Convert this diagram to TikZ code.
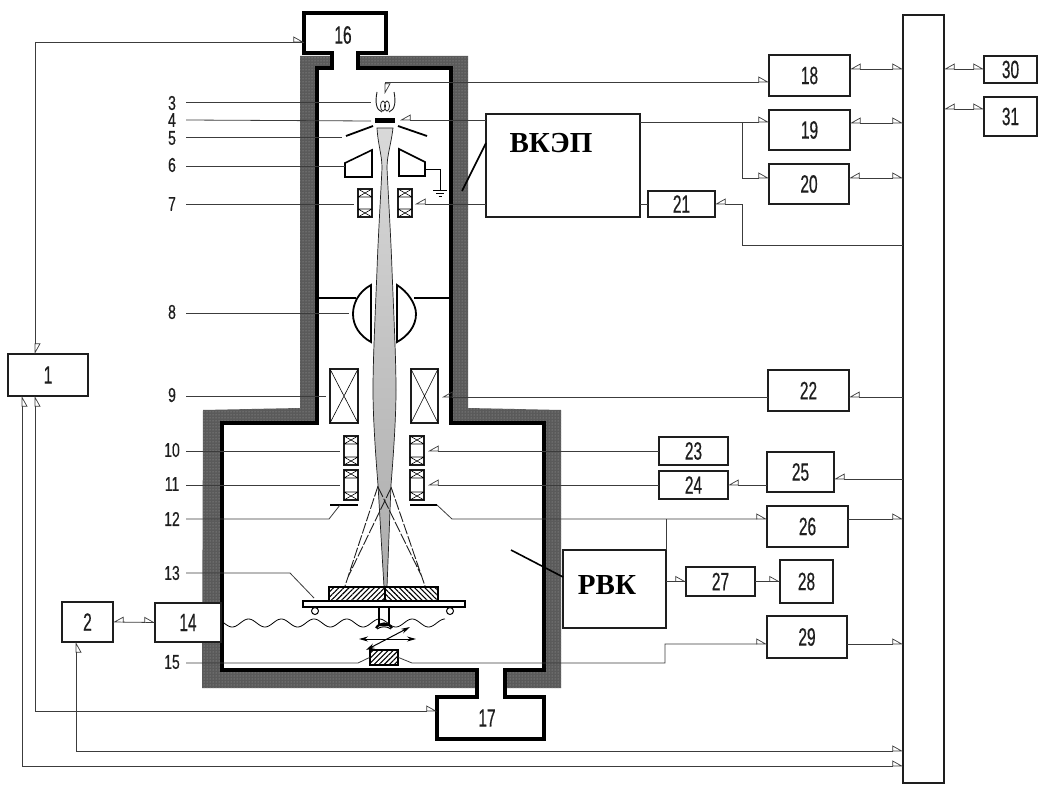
\documentclass[tikz,border=0pt]{standalone}
\usepackage{fontspec}
\setmainfont{Liberation Serif}
\setsansfont[FakeStretch=0.70,FakeBold=0.4]{Liberation Sans}
\newfontfamily\boxdigits[FakeStretch=0.62,FakeBold=0.5]{Liberation Sans}
\usetikzlibrary{arrows.meta,patterns,patterns.meta,calc}
\definecolor{shell}{HTML}{5A5A5A}
\definecolor{ink}{HTML}{1E1E1E}
\definecolor{thin}{HTML}{3C3C3C}
\newcommand{\bx}[6]{\node[blockbox,minimum width={(#4-#2)*1pt},minimum height={(#5-#3)*1pt}] (#1) at ({(#2+#4)/2},{(#3+#5)/2}) {#6};}
\newcommand{\coil}[5]{\node[coilbox,minimum width={(#4-#2)*1pt},minimum height={(#5-#3)*1pt}] (#1) at ({(#2+#4)/2},{(#3+#5)/2}) {};
 \draw[thin,line width=.6pt] (#2,#3) -- (#4,{#3+8}) (#4,#3) -- (#2,{#3+8}) (#2,{#5-8}) -- (#4,#5) (#4,{#5-8}) -- (#2,#5) (#2,{#3+8}) -- (#4,{#3+8}) (#2,{#5-8}) -- (#4,{#5-8});}
\newcommand{\xcoil}[5]{\node[coilbox,line width=1.6pt,minimum width={(#4-#2)*1pt},minimum height={(#5-#3)*1pt}] (#1) at ({(#2+#4)/2},{(#3+#5)/2}) {};
 \draw[thin,line width=.6pt] (#1.north west) -- (#1.south east) (#1.north east) -- (#1.south west);}
\tikzset{
 num/.style={font=\sffamily\fontsize{20}{20}\selectfont,inner sep=0pt,text=ink},
 boxnum/.style={font=\boxdigits\fontsize{25}{25}\selectfont,inner sep=0pt,text=ink},
 blockbox/.style={draw=ink,line width=1.6pt,fill=white,inner sep=0pt,outer sep=0pt,font=\boxdigits\fontsize{25}{25}\selectfont,text=ink},
 bigbox/.style={draw=ink,line width=1.6pt,fill=white,inner sep=0pt,outer sep=0pt},
 bigtext/.style={font=\rmfamily\bfseries\fontsize{29}{29}\selectfont,inner sep=0pt},
 coilbox/.style={draw=ink,line width=1.2pt,fill=white,inner sep=0pt,outer sep=0pt},
 link/.style={draw=thin,line width=.8pt},
 flag/.tip={Triangle[open,harpoon,length=10pt,width=11pt,line width=.7pt]},
 flags/.tip={Triangle[open,harpoon,swap,length=10pt,width=11pt,line width=.7pt]},
 heavy/.style={draw=black,line width=3.4pt,miter limit=10},
 hatchr/.style={draw=black,line width=1.1pt,pattern={Lines[angle=45,distance=3.6pt,line width=1.1pt]},inner sep=0pt},
 hatchl/.style={draw=black,line width=1.1pt,pattern={Lines[angle=-45,distance=3.6pt,line width=1.1pt]},inner sep=0pt},
}
\begin{document}
\begin{tikzpicture}[x=1pt,y=-1pt]
\useasboundingbox (0,0) rectangle (1038,784);
\fill[white] (0,0) rectangle (1038,784);
% shell
\path[fill=shell] (300,56) -- (468,56) -- (468,408) -- (561,410) -- (561,688) -- (202,688) -- (203,410) -- (300,408) -- cycle;
\path[pattern={Dots[distance=3pt,radius=.5pt]},pattern color=gray!70!white] (300,56) -- (468,56) -- (468,408) -- (561,410) -- (561,688) -- (202,688) -- (203,410) -- (300,408) -- cycle;
% chamber
\path[heavy,fill=white] (304,13) -- (386,13) -- (386,53) -- (358,53) -- (358,68) -- (451,68) -- (451,423) -- (544,423) -- (544,670) -- (505,670) -- (505,697) -- (544,697) -- (544,739) -- (437,739) -- (437,697) -- (477,697) -- (477,670) -- (222,670) -- (222,423) -- (317,423) -- (317,68) -- (332,68) -- (332,53) -- (304,53) -- cycle;
\node[boxnum] (b16) at (343,35) {16};
\node[boxnum] (b17) at (487,718) {17};
\coordinate (b16w) at (304,42);
\coordinate (b17w) at (437,711);
% blocks
\bx{b1}{8}{354}{88}{396}{1}
\bx{b2}{62}{602}{113}{642}{2}
\bx{b14}{155}{603}{221}{642}{14}
\bx{b18}{769}{55}{850}{96}{18}
\bx{b19}{769}{110}{850}{150}{19}
\bx{b20}{769}{164}{849}{204}{20}
\bx{b21}{648}{191}{715}{217}{21}
\bx{b22}{768}{370}{849}{411}{22}
\bx{b23}{659}{437}{728}{465}{23}
\bx{b24}{659}{471}{728}{499}{24}
\bx{b25}{767}{452}{834}{492}{25}
\bx{b26}{767}{506}{848}{547}{26}
\bx{b27}{686}{567}{755}{596}{27}
\bx{b28}{780}{560}{833}{603}{28}
\bx{b29}{767}{616}{847}{658}{29}
\bx{b30}{984}{56}{1037}{83}{30}
\bx{b31}{984}{97}{1037}{136}{31}
\bx{bus}{903}{15}{944}{783}{}
\node[bigbox,minimum width=154pt,minimum height=103pt,anchor=north west] (vkep) at (486,114) {};
\node[bigtext] (vkept) at (551,143) {ВКЭП};
\node[bigbox,minimum width=103pt,minimum height=78pt,anchor=north west] (rvk) at (563,550) {};
\node[bigtext] (rvkt) at (607,585) {РВК};
% beam
\path[top color=gray!30,bottom color=gray!65,draw=ink,line width=.7pt] (377,128) .. controls (378,145) and (382,155) .. (382,168) .. controls (381,190) and (378,240) .. (377,270) .. controls (375,320) and (373,360) .. (373,390) .. controls (373,420) and (376,460) .. (378,485) -- (384,587) -- (387,587) -- (391,485) .. controls (393,460) and (396,420) .. (396,390) .. controls (396,360) and (394,320) .. (392,270) .. controls (391,240) and (388,190) .. (387,168) .. controls (387,155) and (391,145) .. (393,128) -- cycle;
% gun
\draw[ink,line width=.9pt] (377,92) .. controls (375,102) and (376,110) .. (382,112) (394,92) .. controls (396,102) and (395,110) .. (389,112);
\draw[ink,line width=.8pt] (383,106) ellipse (2.5 and 5) (387,106) ellipse (2.5 and 5);
\fill[black] (375,118) rectangle (395,122.5);
\draw[black,line width=1.8pt] (346,136) -- (373,126) (398,126) -- (427,136);
\node[inner sep=0pt] (gun) at (385,102) {};
\draw[black,line width=1.6pt,fill=white] (345,163) -- (372,150) -- (372,177) -- (345,177) -- cycle;
\draw[black,line width=1.6pt,fill=white] (399,149) -- (425,162) -- (425,176) -- (399,176) -- cycle;
\draw[thin,line width=.8pt] (425,169) -- (440,169) -- (440,190);
\draw[thin,line width=.8pt] (433,190) -- (447,190) (436,193) -- (444,193) (438.5,196) -- (441.5,196);
% lens 8
\draw[heavy,line width=2.6pt] (317,298) -- (356,298) (414,298) -- (451,298);
\draw[black,line width=1.8pt,fill=white] (371,285) .. controls (358,292) and (353,304) .. (353,314) .. controls (353,326) and (360,336) .. (371,342) -- cycle;
\draw[black,line width=1.8pt,fill=white] (397,285) .. controls (408,292) and (416,304) .. (416,314) .. controls (416,326) and (408,336) .. (397,342) -- cycle;
% coils
\coil{c7l}{358}{189}{372}{217}{}
\coil{c7r}{398}{189}{412}{217}{}
\xcoil{c9l}{330}{369}{358}{423}{}
\xcoil{c9r}{411}{369}{438}{423}{}
\coil{c10l}{344}{436}{358}{465}{}
\coil{c10r}{410}{436}{424}{465}{}
\coil{c11l}{344}{470}{358}{500}{}
\coil{c11r}{410}{470}{424}{500}{}
% aperture 12
\draw[black,line width=1.4pt] (330,505) -- (358,505) (410,505) -- (437,505);
% dashed rays
\draw[ink,line width=.9pt,dash pattern=on 11pt off 2pt] (378,486) -- (345,586) (391,488) -- (348,577) (391,487) -- (425,586) (378,487) -- (422,577);
% sample and stage
\node[hatchr,minimum width=56pt,minimum height=14pt] (sampl) at (357,594) {};
\node[hatchl,minimum width=53pt,minimum height=14pt] (sampr) at (411.5,594) {};
\node[draw=black,line width=1.2pt,fill=white,minimum width=162pt,minimum height=6pt,inner sep=0pt] (stage) at (384,604) {};
\draw[black,line width=1pt,fill=white] (315,611) circle (3.5) (450,611) circle (3.5);
\draw[black,line width=1.2pt,fill=white] (379,607) rectangle (389,625);
\draw[thin,line width=.8pt,smooth] plot[domain=224:445,samples=160] (\x,{623+4*sin((\x-224)*11)});
\draw[black,line width=2.2pt] (376,628) .. controls (380,622) and (388,622) .. (392,628);
\draw[black,line width=1pt] (377,629) .. controls (381,626) and (387,626) .. (391,629);
\draw[black,line width=1pt,{Stealth[length=9pt,width=5pt]}-{Stealth[length=9pt,width=5pt]}] (359,639) -- (416,639);
\draw[black,line width=1pt,{Stealth[length=9pt,width=5pt]}-{Stealth[length=9pt,width=5pt]}] (366,650) -- (410,627);
\node[hatchr,minimum width=28pt,minimum height=15pt] (det) at (384,657.5) {};
% number labels
\foreach \n/\y in {3/103,4/120,5/138,6/165,7/204,8/312,9/395,10/450,11/484,12/519,13/573,15/662}
  \node[num] (l\n) at (172,\y) {\n};
\draw[link] (186,102) -- (371,102);
\draw[link] (186,120) -- (371,121);
\draw[link] (186,137) -- (342,137);
\draw[link] (186,166) -- (345,166);
\draw[link] (186,204) -- (354,204);
\draw[link] (186,313) -- (349,313);
\draw[link] (186,396) -- (326,396);
\draw[link] (186,451) -- (340,451);
\draw[link] (186,485) -- (340,485);
\draw[link] (186,519) -- (329,519) -- (340,505);
\draw[link] (186,573) -- (290,573) -- (314,598);
\draw[link] (186,663) -- (358,663) -- (det.west);
% pointers
\draw[black,line width=1.6pt] (462,191) -- (vkep.west |- 0,143);
\draw[black,line width=1.6pt] (511,550) -- (rvk.west |- 0,577);
% external links
\draw[link] (35,42) -- (b16w);
\draw[link,-flag] (200,42) -- (b16w);
\draw[link,-flag] (35,42) -- (35,354);
\draw[link,-flags] (35,711) -- (35,396);
\draw[link,-flag] (35,711) -- (b17w);
\draw[link,-flags] (22,766) -- (22,396);
\draw[link,-flag] (22,766) -- (bus.west |- 0,766);
\draw[link,-flags] (76,751) -- (76,642);
\draw[link,-flag] (76,751) -- (bus.west |- 0,751);
\draw[link,flags-flag] (b2.east) -- (b14.west);
\draw[link,-flag] (gun.north |- 0,82) -- (b18.west |- 0,82);
\draw[link,-flag] (385,82) -- (385,94);
\draw[link,-flags] (vkep.west |- 0,120) -- (400,120);
\draw[link,-flag] (vkep.east |- 0,122) -- (b19.west |- 0,122);
\draw[link,-flag] (742,122) -- (742,178) -- (b20.west |- 0,178);
\draw[link,flags-flag] (b18.east |- 0,69) -- (bus.west |- 0,69);
\draw[link,flags-flag] (b19.east |- 0,123) -- (bus.west |- 0,123);
\draw[link,flags-flag] (b20.east |- 0,178) -- (bus.west |- 0,178);
\draw[link,flags-flag] (bus.east |- 0,69) -- (b30.west |- 0,69);
\draw[link,flags-flag] (bus.east |- 0,109) -- (b31.west |- 0,109);
\draw[link] (vkep.east |- b21.west) -- (b21.west);
\draw[link,-flags] (bus.west |- 0,245) -- (742,245) -- (742,204) -- (b21.east);
\draw[link,-flags] (vkep.west |- 0,204) -- (415,204);
\draw[link,-flags] (b22.west |- 0,397) -- (442,397);
\draw[link,-flags] (bus.west |- 0,397) -- (b22.east |- 0,397);
\draw[link,-flags] (b23.west |- 0,451) -- (428,451);
\draw[link,-flags] (b24.west |- 0,485) -- (428,485);
\draw[link,-flags] (b25.west |- 0,485) -- (b24.east |- 0,485);
\draw[link,-flags] (bus.west |- 0,479) -- (b25.east |- 0,479);
\draw[link,-flag] (437,505) -- (452,519) -- (b26.west |- 0,519);
\draw[link] (rvk.east |- 0,519) -- (rvk.north east);
\draw[link,-flag] (b26.east |- 0,519) -- (bus.west |- 0,519);
\draw[link,-flag] (rvk.east |- b27.west) -- (b27.west);
\draw[link,-flag] (b27.east) -- (b28.west |- b27.east);
\draw[link,-flag] (det.east) -- (412,663) -- (665,663) -- (665,644) -- (b29.west |- 0,644);
\draw[link,-flag] (b29.east |- 0,644) -- (bus.west |- 0,644);
\end{tikzpicture}
\end{document}
